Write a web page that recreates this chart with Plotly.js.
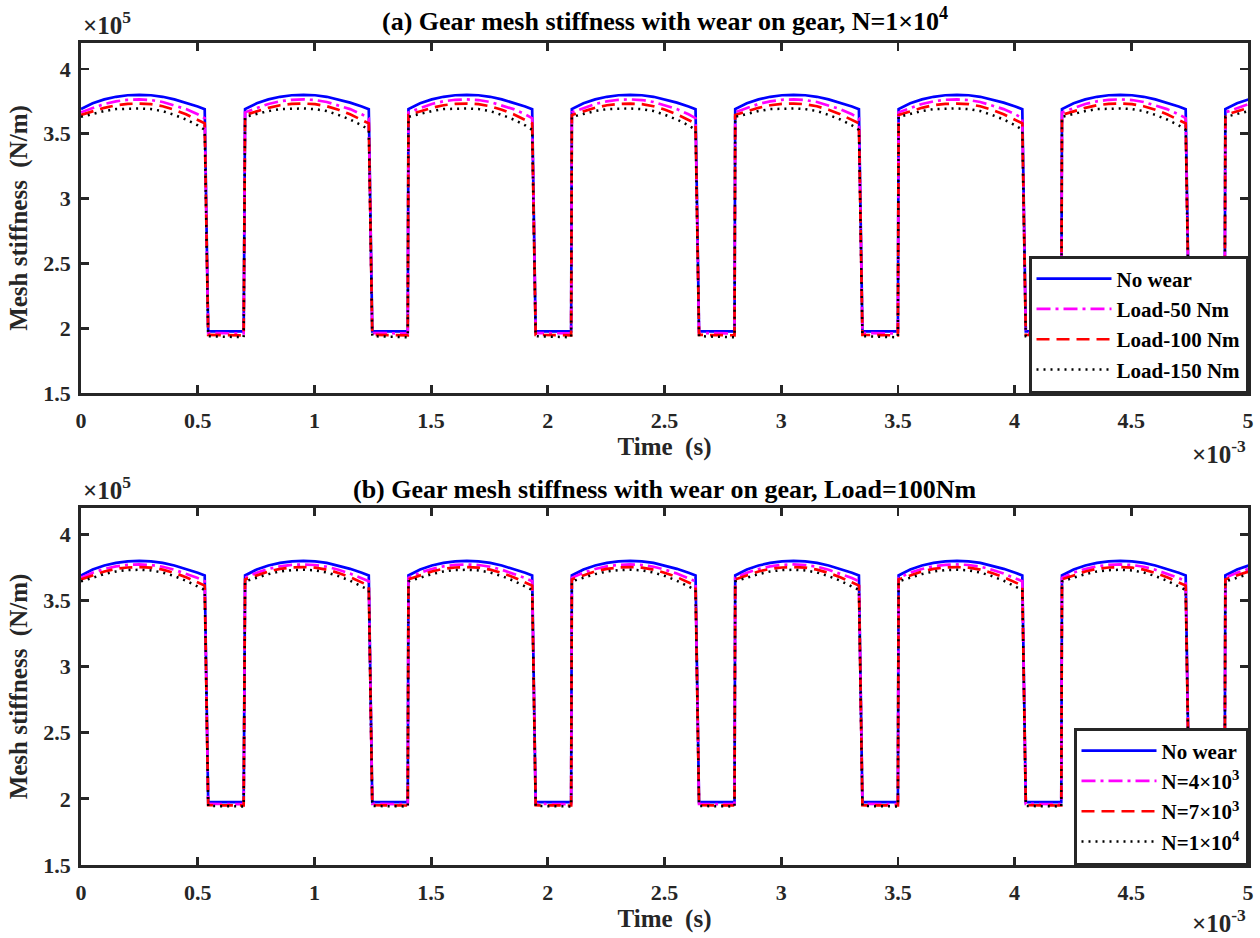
<!DOCTYPE html>
<html>
<head>
<meta charset="utf-8">
<script src="https://cdn.plot.ly/plotly-3.0.1.min.js"></script>
<style>html,body{margin:0;padding:0;background:#fff;}#chart{width:1260px;height:938px;}</style>
</head>
<body>
<div id="chart"></div>
<script>
// ---- data (time in ×10^-3 s, stiffness in ×10^5 N/m) ----
const cycleStarts = [0, 0.703, 1.403, 2.103, 2.803, 3.503, 4.203, 4.903];
const arcOffsets  = [0, 0.05, 0.10, 0.15, 0.20, 0.25, 0.30, 0.35, 0.40, 0.45, 0.50, 0.53];
const lowOffsets  = [0.545, 0.697];

// panel (a): load comparison at N = 1e4
const arcNoWear   = [3.690, 3.735, 3.765, 3.785, 3.797, 3.800, 3.797, 3.785, 3.765, 3.740, 3.710, 3.690];
const arcLoad50   = [3.665, 3.700, 3.730, 3.750, 3.762, 3.765, 3.760, 3.745, 3.720, 3.690, 3.650, 3.620];
const arcLoad100  = [3.645, 3.675, 3.700, 3.720, 3.730, 3.733, 3.728, 3.712, 3.685, 3.650, 3.610, 3.580];
const arcLoad150  = [3.630, 3.655, 3.675, 3.690, 3.695, 3.695, 3.690, 3.675, 3.645, 3.610, 3.565, 3.530];
const lowNoWear   = [1.975, 1.975];
const lowLoad50   = [1.962, 1.960];
const lowLoad100  = [1.948, 1.945];
const lowLoad150  = [1.938, 1.930];

// panel (b): wear cycles at Load = 100 Nm
const arcN4e3     = [3.672, 3.711, 3.739, 3.759, 3.770, 3.773, 3.769, 3.756, 3.733, 3.704, 3.670, 3.646];
const arcN7e3     = [3.660, 3.693, 3.720, 3.740, 3.750, 3.753, 3.749, 3.734, 3.709, 3.677, 3.640, 3.613];
const arcN1e4     = [3.645, 3.675, 3.700, 3.720, 3.730, 3.733, 3.728, 3.712, 3.685, 3.650, 3.610, 3.580];
const lowN4e3     = [1.962, 1.960];
const lowN7e3     = [1.952, 1.950];
const lowN1e4     = [1.946, 1.943];

const xTicks = [0, 0.5, 1, 1.5, 2, 2.5, 3, 3.5, 4, 4.5, 5];
const xTickText = ['0','0.5','1','1.5','2','2.5','3','3.5','4','4.5','5'];
const yTicks = [1.5, 2, 2.5, 3, 3.5, 4];
const yTickText = ['1.5','2','2.5','3','3.5','4'];

// build full periodic series from the per-cycle profile
function buildSeries(arc, low) {
  const x = [], y = [];
  cycleStarts.forEach(s => {
    arcOffsets.forEach((o, i) => { x.push(+(s + o).toFixed(4)); y.push(arc[i]); });
    lowOffsets.forEach((o, i) => { x.push(+(s + o).toFixed(4)); y.push(low[i]); });
  });
  return {x, y};
}

const styles = {
  blue:    {color: '#0000ff', width: 2.7, dash: 'solid'},
  magenta: {color: '#ff00ff', width: 2.7, dash: '14px,5px,3px,5px'},
  red:     {color: '#ff0000', width: 2.7, dash: '13px,7px'},
  black:   {color: '#000000', width: 2.5, dash: '2px,5px'}
};

function tr(name, arc, low, st, xa, ya, leg) {
  const s = buildSeries(arc, low);
  return {x: s.x, y: s.y, name: name, type: 'scatter', mode: 'lines',
          line: st, xaxis: xa, yaxis: ya, legend: leg};
}

const traces = [
  tr('No wear',     arcNoWear,  lowNoWear,  styles.blue,    'x',  'y',  'legend'),
  tr('Load-50 Nm',  arcLoad50,  lowLoad50,  styles.magenta, 'x',  'y',  'legend'),
  tr('Load-100 Nm', arcLoad100, lowLoad100, styles.red,     'x',  'y',  'legend'),
  tr('Load-150 Nm', arcLoad150, lowLoad150, styles.black,   'x',  'y',  'legend'),
  tr('No wear',               arcNoWear, lowNoWear, styles.blue,    'x2', 'y2', 'legend2'),
  tr('N=4×10<sup>3</sup>',    arcN4e3,   lowN4e3,   styles.magenta, 'x2', 'y2', 'legend2'),
  tr('N=7×10<sup>3</sup>',    arcN7e3,   lowN7e3,   styles.red,     'x2', 'y2', 'legend2'),
  tr('N=1×10<sup>4</sup>',    arcN1e4,   lowN1e4,   styles.black,   'x2', 'y2', 'legend2')
];

const axCol = '#262626';
const FONT = 'Liberation Serif, Times New Roman, serif';
function xAxis(dom, anchor) {
  return {domain: dom, anchor: anchor, range: [0, 5], tickvals: xTicks, ticktext: xTickText,
    showline: true, linecolor: axCol, linewidth: 2.8, mirror: 'ticks', ticks: 'inside',
    ticklen: 8, tickwidth: 2.8, tickcolor: axCol, showgrid: false, zeroline: false,
    ticklabelstandoff: 6,
    tickfont: {family: FONT, size: 22, color: axCol, weight: 'bold'},
    title: {text: 'Time  (s)', standoff: 2, font: {family: FONT, size: 25, color: axCol, weight: 'bold'}}};
}
function yAxis(dom, anchor) {
  return {domain: dom, anchor: anchor, range: [1.5, 4.2], tickvals: yTicks, ticktext: yTickText,
    showline: true, linecolor: axCol, linewidth: 2.8, mirror: 'ticks', ticks: 'inside',
    ticklen: 8, tickwidth: 2.8, tickcolor: axCol, showgrid: false, zeroline: false,
    ticklabelstandoff: 3,
    tickfont: {family: FONT, size: 22, color: axCol, weight: 'bold'},
    title: {text: 'Mesh stiffness  (N/m)', standoff: 9, font: {family: FONT, size: 25, color: axCol, weight: 'bold'}}};
}

const xd = [81/1260, 1248/1260];
const yTop = [1 - 393/938, 1 - 43/938];
const yBot = [1 - 865/938, 1 - 508/938];

const legendBase = {
  bgcolor: '#ffffff', bordercolor: axCol, borderwidth: 2.5, xanchor: 'right', yanchor: 'bottom',
  font: {family: FONT, size: 21, color: '#000', weight: 'bold'}, itemwidth: 75, tracegroupgap: 0
};

const annFont = {family: FONT, size: 25, color: axCol, weight: 'bold'};
const titleFont = {family: FONT, size: 26, color: '#000', weight: 'bold'};
const layout = {
  width: 1260, height: 938,
  margin: {l: 0, r: 0, t: 0, b: 0},
  paper_bgcolor: '#ffffff', plot_bgcolor: '#ffffff',
  font: {family: FONT, size: 20, color: axCol, weight: 'bold'},
  xaxis: xAxis(xd, 'y'), yaxis: yAxis(yTop, 'x'),
  xaxis2: xAxis(xd, 'y2'), yaxis2: yAxis(yBot, 'x2'),
  legend: Object.assign({}, legendBase, {x: xd[1], y: yTop[0]}),
  legend2: Object.assign({}, legendBase, {x: xd[1], y: yBot[0]}),
  annotations: [
    {text: '(a) Gear mesh stiffness with wear on gear, N=1×10<sup>4</sup>', xref: 'paper', yref: 'paper',
     x: (xd[0] + xd[1]) / 2, y: 1 - 20/938, xanchor: 'center', yanchor: 'middle', showarrow: false,
     font: titleFont},
    {text: '(b) Gear mesh stiffness with wear on gear, Load=100Nm', xref: 'paper', yref: 'paper',
     x: (xd[0] + xd[1]) / 2, y: 1 - 489/938, xanchor: 'center', yanchor: 'middle', showarrow: false,
     font: titleFont},
    {text: '×10<sup>5</sup>', xref: 'paper', yref: 'paper', x: xd[0], y: yTop[1] + 2/938, xanchor: 'left', yanchor: 'bottom',
     showarrow: false, font: annFont},
    {text: '×10<sup>5</sup>', xref: 'paper', yref: 'paper', x: xd[0], y: yBot[1] + 2/938, xanchor: 'left', yanchor: 'bottom',
     showarrow: false, font: annFont},
    {text: '×10<sup>-3</sup>', xref: 'paper', yref: 'paper', x: xd[1], y: 1 - 434/938, xanchor: 'right', yanchor: 'top',
     showarrow: false, font: annFont},
    {text: '×10<sup>-3</sup>', xref: 'paper', yref: 'paper', x: xd[1], y: 1 - 903/938, xanchor: 'right', yanchor: 'top',
     showarrow: false, font: annFont}
  ]
};

Plotly.newPlot('chart', traces, layout, {staticPlot: true, displayModeBar: false});
</script>
</body>
</html>
